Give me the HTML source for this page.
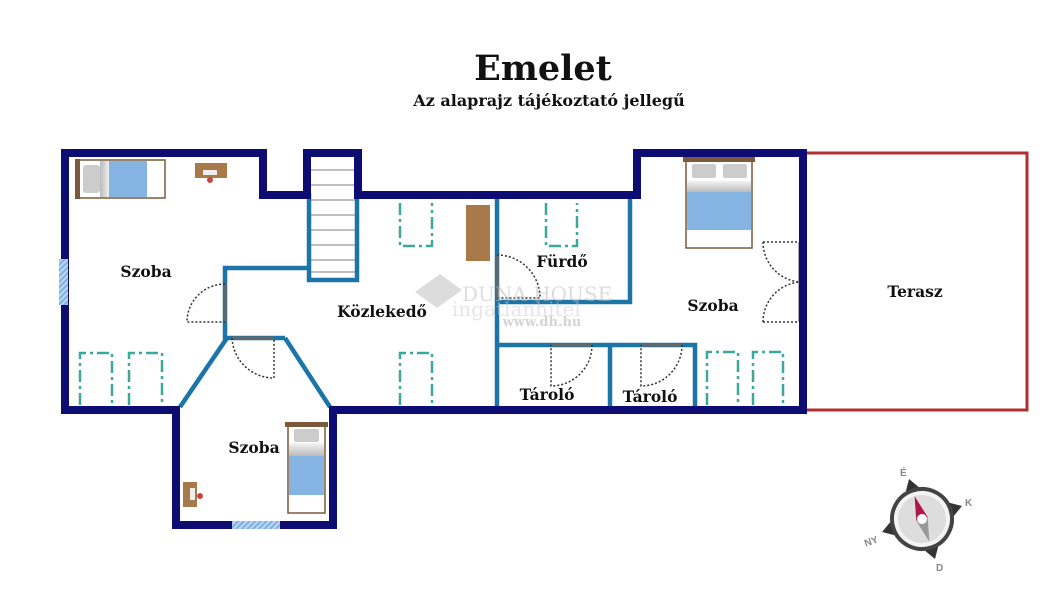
<!DOCTYPE html>
<html><head><meta charset="utf-8"><style>
html,body{margin:0;padding:0;background:#fff;}
svg{display:block;}
text{font-family:"DejaVu Serif","Liberation Serif",serif;font-weight:bold;fill:#111;}
</style></head><body>
<svg width="1061" height="600" viewBox="0 0 1061 600" xmlns="http://www.w3.org/2000/svg">
<defs>
<linearGradient id="g" x1="0" x2="1" y1="0" y2="0"><stop offset="0" stop-color="#bbb"/><stop offset="1" stop-color="#f4f4f4"/></linearGradient>
<linearGradient id="gv" x1="0" x2="0" y1="0" y2="1"><stop offset="0" stop-color="#f4f4f4"/><stop offset="1" stop-color="#bbb"/></linearGradient>
<pattern id="h" width="4" height="4" patternUnits="userSpaceOnUse" patternTransform="rotate(45)"><rect width="4" height="4" fill="#bcd8f0"/><rect width="2" height="4" fill="#7fb0e0"/></pattern>
</defs>
<text x="543" y="80" font-size="35" text-anchor="middle">Emelet</text>
<text x="549" y="106" font-size="16" text-anchor="middle">Az alaprajz tájékoztató jellegű</text>

<rect x="805" y="153" width="222" height="257" fill="none" stroke="#b03030" stroke-width="3"/>

<g>
<rect x="77" y="160" width="88" height="38" fill="#fff" stroke="#7a5a3a" stroke-width="1.5"/>
<rect x="100" y="161" width="10" height="36" fill="url(#g)"/>
<rect x="109" y="161" width="38" height="36" fill="#86b4e2"/>
<rect x="83" y="165" width="17" height="28" rx="3" fill="#ccc"/>
<rect x="75" y="159" width="5" height="40" fill="#7a5a3a"/>
<rect x="195" y="163" width="32" height="15" fill="#a87a4a"/>
<rect x="203" y="170" width="14" height="5" fill="#eee"/>
<circle cx="210" cy="180" r="3" fill="#c44"/>

<rect x="686" y="158" width="66" height="90" fill="#fff" stroke="#7a5a3a" stroke-width="1.5"/>
<rect x="683" y="156" width="72" height="6" fill="#7a5a3a"/>
<rect x="692" y="164" width="24" height="14" rx="2" fill="#ccc"/>
<rect x="723" y="164" width="24" height="14" rx="2" fill="#ccc"/>
<rect x="687" y="181" width="64" height="11" fill="url(#gv)"/>
<rect x="687" y="192" width="64" height="38" fill="#86b4e2"/>

<rect x="288" y="424" width="37" height="89" fill="#fff" stroke="#7a5a3a" stroke-width="1.5"/>
<rect x="285" y="422" width="43" height="5" fill="#7a5a3a"/>
<rect x="294" y="429" width="25" height="13" rx="2" fill="#ccc"/>
<rect x="289" y="443" width="35" height="13" fill="url(#gv)"/>
<rect x="289" y="456" width="35" height="39" fill="#86b4e2"/>
<rect x="183" y="482" width="14" height="25" fill="#a87a4a"/>
<rect x="190" y="488" width="5" height="12" fill="#eee"/>
<circle cx="200" cy="496" r="3" fill="#c44"/>

<rect x="466" y="205" width="24" height="56" fill="#a87a4a"/>
</g>

<g fill="none" stroke="#3aa89a" stroke-width="2.5" stroke-dasharray="12 4 3 4">
<path d="M80,405V353H112V405"/>
<path d="M129,405V353H162V405"/>
<path d="M400,203V246H432V203"/>
<path d="M400,405V353H432V405"/>
<path d="M546,203V246H577V203"/>
<path d="M707,405V352H738V405"/>
<path d="M753,405V352H783V405"/>
</g>

<g stroke="#999" stroke-width="1.2">
<line x1="309" y1="170" x2="357" y2="170"/><line x1="309" y1="185" x2="357" y2="185"/>
<line x1="309" y1="200" x2="357" y2="200"/>
<line x1="309" y1="215" x2="357" y2="215"/><line x1="309" y1="230" x2="357" y2="230"/>
<line x1="309" y1="245" x2="357" y2="245"/><line x1="309" y1="260" x2="357" y2="260"/><line x1="309" y1="272" x2="357" y2="272"/>
</g>

<g fill="none" stroke="#1b75a8" stroke-width="4.5">
<path d="M307,268H225V338H285"/>
<path d="M227,338L180,407M285,338L330,407"/>
<path d="M309,193V280H357V193"/>
<path d="M497,195V407M497,302H630V195"/>
<path d="M497,345H695V407M610,345V407"/>
</g>

<g stroke="#666" stroke-width="3">
<line x1="225" y1="284" x2="225" y2="322"/>
<line x1="232" y1="338" x2="274" y2="338"/>
<line x1="497" y1="255" x2="497" y2="298"/>
<line x1="551" y1="345" x2="592" y2="345"/>
<line x1="641" y1="345" x2="682" y2="345"/>
<line x1="800" y1="242" x2="800" y2="322" stroke="#aaa" stroke-width="4"/>
</g>
<g fill="none" stroke="#333" stroke-width="1.5" stroke-dasharray="2 2">
<path d="M225,284A38,38 0 0 0 187,322H225"/>
<path d="M232,338A42,42 0 0 0 274,378V338"/>
<path d="M497,255A43,43 0 0 1 540,298H497"/>
<path d="M592,345A41,41 0 0 1 551,386V345"/>
<path d="M682,345A41,41 0 0 1 641,386V345"/>
<path d="M763,242H800M763,242A40,40 0 0 0 800,282M763,322H800M763,322A40,40 0 0 1 800,282"/>
</g>

<path d="M65,153H263V195H307V153H358V195H637V153H803V410H333V525H176V410H65Z" fill="none" stroke="#0c0c72" stroke-width="8" stroke-linejoin="miter"/>
<rect x="59" y="259" width="9" height="46" fill="url(#h)"/>
<rect x="232" y="521" width="48" height="8" fill="url(#h)"/>

<g opacity="0.5">
<path d="M415,292L440,274L462,290L437,308Z" fill="#bbb"/>
<text x="462" y="301" font-size="20" font-family="Liberation Serif,serif" style="fill:#bbb;font-weight:normal">DUNA HOUSE</text>
<text x="452" y="316" font-size="20" font-family="Liberation Sans,sans-serif" style="fill:#ccc;font-weight:normal">ingatlanhitel</text>
<text x="542" y="326" font-size="13" text-anchor="middle" font-family="Liberation Sans,sans-serif" style="fill:#aaa">www.dh.hu</text>
</g>

<g font-size="15.5" text-anchor="middle">
<text x="146" y="277">Szoba</text>
<text x="382" y="317">Közlekedő</text>
<text x="562" y="267">Fürdő</text>
<text x="713" y="311">Szoba</text>
<text x="915" y="297">Terasz</text>
<text x="254" y="453">Szoba</text>
<text x="547" y="400">Tároló</text>
<text x="650" y="402">Tároló</text>
</g>

<g transform="translate(922,519) rotate(-18)">
<polygon points="-7,-31 7,-31 0,-42" fill="#333"/>
<polygon points="31,-7 31,7 42,0" fill="#333"/>
<polygon points="-7,31 7,31 0,42" fill="#333"/>
<polygon points="-31,-7 -31,7 -42,0" fill="#333"/>
<circle r="30" fill="#f4f4f4" stroke="#444" stroke-width="4"/>
<circle r="24" fill="#ddd"/>
<polygon points="-6,0 6,0 0,-24" fill="#b0144a"/>
<polygon points="-6,0 6,0 0,24" fill="#999"/>
<circle r="5" fill="#fff"/>
</g>
<g font-size="10" font-family="Liberation Sans,sans-serif">
<text x="900" y="476" style="fill:#888;font-family:'Liberation Sans',sans-serif">É</text>
<text x="965" y="506" style="fill:#888;font-family:'Liberation Sans',sans-serif">K</text>
<text x="864" y="545" transform="rotate(-20 870 541)" style="fill:#888;font-family:'Liberation Sans',sans-serif">NY</text>
<text x="936" y="571" style="fill:#888;font-family:'Liberation Sans',sans-serif">D</text>
</g>
</svg>
</body></html>
